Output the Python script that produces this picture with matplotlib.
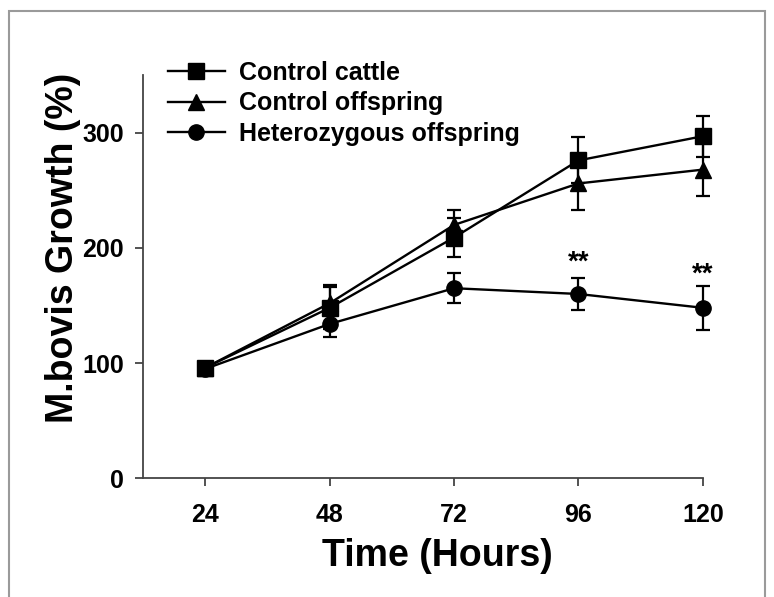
import matplotlib.pyplot as plt
from matplotlib.lines import Line2D
from matplotlib.patches import Rectangle

# ========================
# Data
# ========================
hours = [24, 48, 72, 96, 120]

cattle = [96, 148, 209, 276, 297]
cattle_err = [4, 18, 17, 20, 18]

offspring = [96, 152, 220, 256, 268]
offspring_err = [4, 16, 13, 23, 23]

hetero = [95, 134, 165, 160, 148]
hetero_err = [4, 11, 13, 14, 19]

labels = ["Control cattle", "Control offspring", "Heterozygous offspring"]
markers = ["s", "^", "o"]
signif_hours = [96, 120]
signif_pos = [187, 177]
signif_text = "**"

plt.rcParams["font.family"] = ["Liberation Sans", "DejaVu Sans"]
plt.rcParams["font.weight"] = "bold"

fig = plt.figure(figsize=(7.74, 5.97), dpi=100)
ax = fig.add_axes([0.185, 0.199, 0.723, 0.675])

series = [(cattle, cattle_err), (offspring, offspring_err), (hetero, hetero_err)]
handles = []
for (vals, errs), lab, mk in zip(series, labels, markers):
    ax.errorbar(hours, vals, yerr=errs, color="black", marker=mk,
                markersize=11, lw=1.7, elinewidth=1.6, capsize=5,
                capthick=1.6, clip_on=False)
    handles.append(Line2D([], [], color="black", marker=mk, markersize=11,
                          lw=1.7, label=lab))

# significance stars above heterozygous error bars
for h, y in zip(signif_hours, signif_pos):
    ax.text(h, y, signif_text, ha="center", va="center",
            fontsize=20, fontweight="bold")

ax.set_xlim(12, 120)
ax.set_ylim(0, 350)
ax.set_xticks(hours)
ax.set_yticks([0, 100, 200, 300])

ax.spines["top"].set_visible(False)
ax.spines["right"].set_visible(False)
for sp in ["left", "bottom"]:
    ax.spines[sp].set_linewidth(1.3)
    ax.spines[sp].set_color("#444444")

ax.tick_params(axis="both", labelsize=18, width=1.3, length=6, color="#444444")
ax.tick_params(axis="x", pad=12)
ax.tick_params(axis="y", pad=8)
for t in ax.get_xticklabels() + ax.get_yticklabels():
    t.set_fontweight("bold")

ax.set_xlabel("Time (Hours)", fontsize=27, fontweight="bold", labelpad=8)
ax.xaxis.label.set_x(0.525)
ax.set_ylabel("M.bovis Growth (%)", fontsize=27, fontweight="bold")
ax.yaxis.set_label_coords(-0.112, 0.571)

leg = ax.legend(handles=handles, loc="upper left", bbox_to_anchor=(0.026, 1.06),
                frameon=False, fontsize=18, handlelength=2.3,
                handletextpad=0.55, labelspacing=0.25, borderaxespad=0)
for t in leg.get_texts():
    t.set_fontweight("bold")

# light frame around the whole figure
fig.patches.append(Rectangle((9 / 774, -0.05), 756 / 774, 1.05 - 11 / 597,
                             transform=fig.transFigure, fill=False,
                             edgecolor="#9a9a9a", lw=1.5))

plt.savefig("out.png", dpi=100)
plt.close()
